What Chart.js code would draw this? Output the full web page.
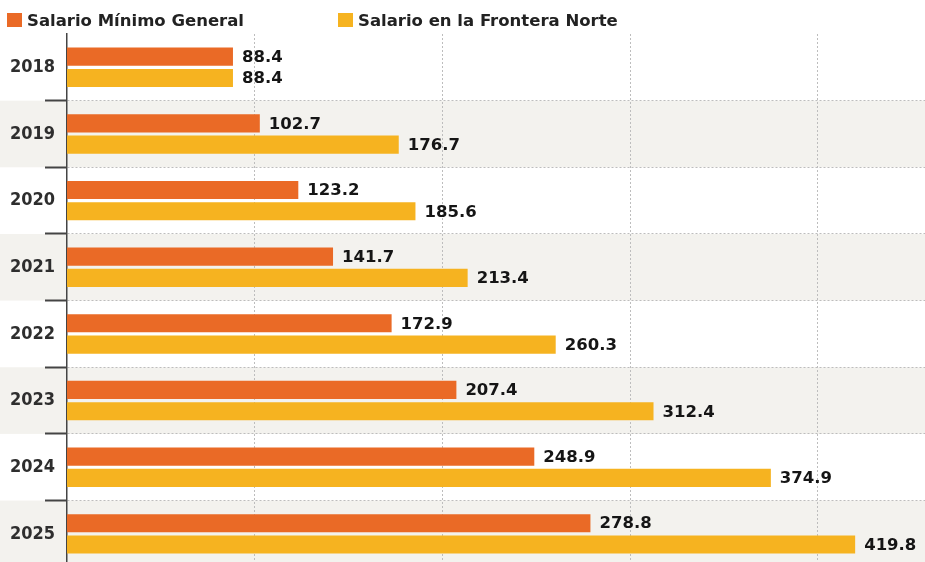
<!DOCTYPE html>
<html>
<head>
<meta charset="utf-8">
<script src="https://cdn.jsdelivr.net/npm/chart.js@4.4.1/dist/chart.umd.min.js"></script>
<style>
    html, body { margin: 0; padding: 0; background: #fff; overflow: hidden; }
    #frame { position: relative; width: 925px; height: 562px; overflow: hidden; }
    #wrap { position: absolute; left: 0; top: 0; width: 925px; height: 568px; }
    .legend { position: absolute; top: 11px; font: bold 16.5px "DejaVu Sans", sans-serif; color: #222; white-space: nowrap; }
    .legend i { position: absolute; left: -20px; top: 2px; width: 15px; height: 14px; }
</style>
</head>
<body>
<div id="frame">
    <div id="wrap"><canvas id="salaryChart"></canvas></div>
    <div class="legend" id="leg0" style="left:27px"><i></i><span></span></div>
    <div class="legend" id="leg1" style="left:358px"><i></i><span></span></div>
</div>
<script>
const years = ['2018', '2019', '2020', '2021', '2022', '2023', '2024', '2025'];
const seriesNames = ['Salario Mínimo General', 'Salario en la Frontera Norte'];
const minimoGeneral = [88.4, 102.7, 123.2, 141.7, 172.9, 207.4, 248.9, 278.8];
const fronteraNorte = [88.4, 176.7, 185.6, 213.4, 260.3, 312.4, 374.9, 419.8];
const gridTicks = [100, 200, 300, 400];

const colors = ['#ea6a26', '#f6b320'];

document.addEventListener('DOMContentLoaded', function() {
    // HTML legend
    seriesNames.forEach(function(name, i) {
        const el = document.getElementById('leg' + i);
        el.querySelector('span').textContent = name;
        el.querySelector('i').style.background = colors[i];
    });

    // Alternating grey row bands
    const rowBands = {
        id: 'rowBands',
        beforeDraw(chart) {
            const y = chart.scales.y;
            const c = chart.ctx;
            const half = Math.abs(y.getPixelForValue(1) - y.getPixelForValue(0)) / 2;
            c.save();
            c.fillStyle = '#f3f2ee';
            years.forEach(function(_, i) {
                if (i % 2 === 1) {
                    const cy = y.getPixelForValue(i);
                    c.fillRect(0, cy - half, chart.width, half * 2);
                }
            });
            c.restore();
        }
    };

    // Value labels at the end of each bar
    const valueLabels = {
        id: 'valueLabels',
        afterDatasetsDraw(chart) {
            const c = chart.ctx;
            c.save();
            c.font = 'bold 16.5px "DejaVu Sans", sans-serif';
            c.fillStyle = '#151515';
            c.textAlign = 'left';
            c.textBaseline = 'middle';
            chart.data.datasets.forEach(function(ds, di) {
                chart.getDatasetMeta(di).data.forEach(function(bar, i) {
                    c.fillText(ds.data[i].toFixed(1), bar.x + 9, bar.y + 1);
                });
            });
            c.restore();
        }
    };

    const ctx = document.getElementById('salaryChart').getContext('2d');
    new Chart(ctx, {
        type: 'bar',
        data: {
            labels: years,
            datasets: [{
                label: seriesNames[0],
                data: minimoGeneral,
                backgroundColor: colors[0],
                barPercentage: 0.85,
                categoryPercentage: 0.64
            }, {
                label: seriesNames[1],
                data: fronteraNorte,
                backgroundColor: colors[1],
                barPercentage: 0.85,
                categoryPercentage: 0.64
            }]
        },
        options: {
            indexAxis: 'y',
            responsive: true,
            maintainAspectRatio: false,
            animation: false,
            layout: { padding: { top: 34, left: 0, right: 0, bottom: 0 } },
            plugins: {
                legend: { display: false },
                tooltip: { enabled: false }
            },
            scales: {
                x: {
                    min: 0,
                    max: 457,
                    ticks: { display: false, stepSize: 100 },
                    afterBuildTicks: function(scale) {
                        scale.ticks = gridTicks.map(v => ({ value: v }));
                    },
                    grid: {
                        color: '#bdbdbd',
                        lineWidth: 1,
                        drawTicks: false
                    },
                    border: { display: false, dash: [2, 2] }
                },
                y: {
                    offset: true,
                    afterFit: function(scale) { scale.width = 67; },
                    ticks: {
                        color: '#2e2e2e',
                        padding: -10,
                        font: { family: '"DejaVu Sans Condensed", "DejaVu Sans", sans-serif', size: 18, weight: 'bold' }
                    },
                    grid: {
                        offset: true,
                        color: function(c) {
                            return (c.type === 'tick' && c.index > 0) ? '#bdbdbd' : 'transparent';
                        },
                        tickColor: function(c) {
                            return (c.type === 'tick' && c.index > 0) ? '#444' : 'transparent';
                        },
                        tickLength: 22,
                        tickWidth: 2,
                        tickBorderDash: [],
                        lineWidth: 1
                    },
                    border: { display: true, color: '#444', width: 1.5, dash: [2, 2] }
                }
            }
        },
        plugins: [rowBands, valueLabels]
    });
});
</script>
</body>
</html>
